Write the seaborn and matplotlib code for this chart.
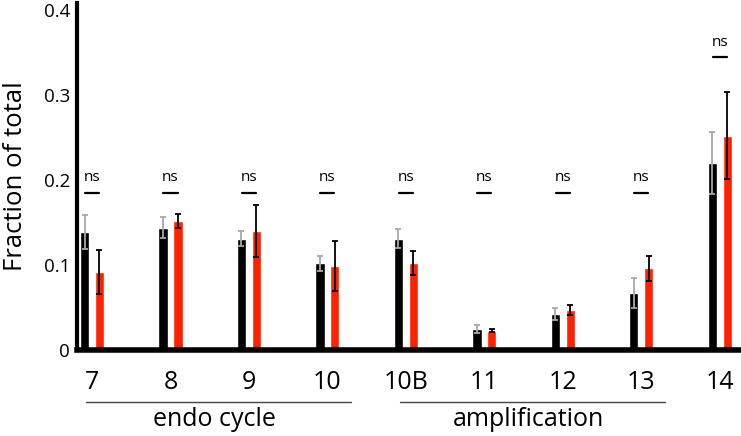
import pandas as pd
import numpy as np
import matplotlib.pyplot as plt
import seaborn as sns

stages = ["7", "8", "9", "10", "10B", "11", "12", "13", "14"]
control_mean = [0.139, 0.144, 0.131, 0.102, 0.131, 0.025, 0.042, 0.067, 0.220]
control_err = [0.020, 0.012, 0.009, 0.009, 0.011, 0.005, 0.007, 0.018, 0.036]
mutant_mean = [0.092, 0.152, 0.140, 0.099, 0.102, 0.023, 0.047, 0.096, 0.252]
mutant_err = [0.026, 0.008, 0.031, 0.029, 0.014, 0.002, 0.006, 0.015, 0.051]
sig_labels = ["ns"] * 9
sig_height = [0.185, 0.185, 0.185, 0.185, 0.185, 0.185, 0.185, 0.185, 0.344]
groups = [("endo cycle", 0, 3), ("amplification", 4, 7)]

df = pd.DataFrame({
    "stage": stages * 2,
    "value": control_mean + mutant_mean,
    "err": control_err + mutant_err,
    "genotype": ["control"] * len(stages) + ["mutant"] * len(stages),
})

sns.set_style("white", rc={"text.color": "black", "axes.labelcolor": "black",
                           "xtick.color": "black", "ytick.color": "black"})
plt.rcParams['font.family'] = ['Open Sans', 'DejaVu Sans']

fig = plt.figure(figsize=(7.41, 4.36), dpi=100)
ax = fig.add_axes([0.104, 0.197, 0.896, 0.796])

sns.barplot(data=df, x="stage", y="value", hue="genotype", order=stages,
            palette={"control": "#000000", "mutant": "#ff2200"}, saturation=1,
            width=0.38, gap=0.38, errorbar=None, legend=False, ax=ax, zorder=2)

# error bars: grey on black bars, black on red bars
err_colors = ["#a8a8a8", "#000000"]
for cont, errs, col in zip(ax.containers, [control_err, mutant_err], err_colors):
    xs = [b.get_x() + b.get_width() / 2 for b in cont]
    ys = [b.get_height() for b in cont]
    ax.errorbar(xs, ys, yerr=errs, fmt="none", ecolor=col, elinewidth=1.3,
                capsize=2.5, capthick=1.3, zorder=3)

# significance marks
for i, (lab, h) in enumerate(zip(sig_labels, sig_height)):
    ax.plot([i - 0.09, i + 0.09], [h, h], color="black", lw=1.6)
    ax.text(i, h + 0.009, lab, ha="center", va="bottom", fontsize=11)

ax.set_xlim(-0.19, 8.27)
ax.set_ylim(0, 0.408)
ax.set_yticks([0, 0.1, 0.2, 0.3, 0.4])
ax.set_yticklabels(["0", "0.1", "0.2", "0.3", "0.4"], fontsize=13.5)
ax.set_xticks(range(len(stages)))
ax.set_xticklabels(stages, fontsize=18)
ax.tick_params(axis="both", length=0)
ax.tick_params(axis="y", pad=5)
ax.tick_params(axis="x", pad=14)
ax.set_xlabel("")
ax.set_ylabel("Fraction of total", fontsize=18.5, labelpad=11)

sns.despine(ax=ax)
ax.spines["left"].set_linewidth(3)
ax.spines["bottom"].set_linewidth(4)
ax.spines["left"].set_color("black")
ax.spines["bottom"].set_color("black")

# phase brackets below the stage labels
for name, a, b in groups:
    ax.plot([a - 0.08, b + 0.3], [-0.061, -0.061], color="#444444", lw=1.0,
            clip_on=False)
    ax.text((a + b) / 2 + 0.06, -0.081, name, ha="center", va="center",
            fontsize=18)

fig.savefig("out.png", dpi=100)
